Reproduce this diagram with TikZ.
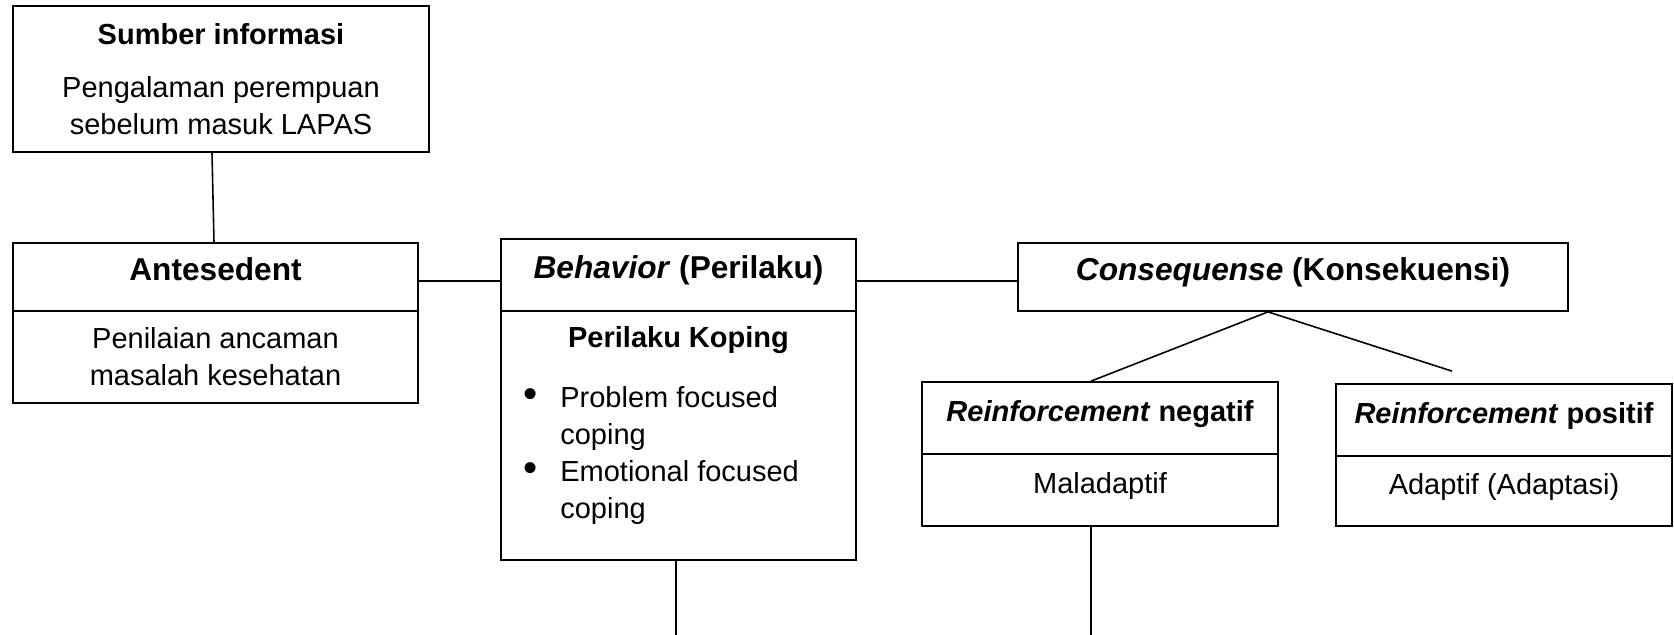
\documentclass[tikz,border=0pt]{standalone}
\usepackage{fontspec}
\setmainfont{Liberation Sans}
\newcommand{\bigtxt}{\fontsize{18}{22}\selectfont\bfseries}
\newcommand{\smalltxt}{\fontsize{16.5}{21}\selectfont}
\newcommand{\bulitem}{\makebox[0.74cm][l]{{\fontsize{23}{21}\selectfont\textbullet}}}
\tikzset{
  box/.style={draw, line width=1pt, inner sep=0pt, align=center, font=\smalltxt},
  oneline/.style={box, text height=0.75em, text depth=0.3em},
  head/.style={oneline, font=\bigtxt},
  subhead/.style={oneline, font=\smalltxt\bfseries},
  conn/.style={line width=0.9pt},
}
\begin{document}
\begin{tikzpicture}
  \useasboundingbox (0,0) rectangle (33.48,-12.7);
  % sumber informasi
  \node[box, minimum width=8.32cm, minimum height=2.92cm] (sumber) at (4.42,-1.58)
    {\textbf{Sumber informasi}\\[0.32cm]Pengalaman perempuan\\sebelum masuk LAPAS};
  % antesedent
  \node[head, minimum width=8.10cm, minimum height=1.36cm] (anteh) at (4.31,-5.54) {Antesedent};
  \node[box, minimum width=8.10cm, minimum height=1.84cm] (anteb) at (4.31,-7.14)
    {Penilaian ancaman\\masalah kesehatan};
  % behavior
  \node[head, minimum width=7.10cm, minimum height=1.44cm] (behh) at (13.57,-5.5)
    {\textit{Behavior} (Perilaku)};
  \node[box, minimum width=7.10cm, minimum height=4.98cm] (behb) at (13.57,-8.71) {};
  \node[font=\smalltxt\bfseries] (koping) at (13.57,-6.8) {Perilaku Koping};
  \node[anchor=west, inner sep=0pt, font=\smalltxt] (koplist) at (10.46,-9.11)
    {\begin{tabular}{@{}l@{}l@{}}
      \bulitem & Problem focused\\
               & coping\\
      \bulitem & Emotional focused\\
               & coping
    \end{tabular}};
  % consequense
  \node[head, minimum width=11.0cm, minimum height=1.36cm] (consh) at (25.86,-5.54)
    {\textit{Consequense} (Konsekuensi)};
  \node[subhead, minimum width=7.12cm, minimum height=1.44cm] (negh) at (22.0,-8.36)
    {\textit{Reinforcement} negatif};
  \node[oneline, minimum width=7.12cm, minimum height=1.44cm] (negb) at (22.0,-9.8) {Maladaptif};
  \node[subhead, minimum width=6.72cm, minimum height=1.44cm] (posh) at (30.08,-8.4)
    {\textit{Reinforcement} positif};
  \node[oneline, minimum width=6.72cm, minimum height=1.40cm] (posb) at (30.08,-9.82) {Adaptif (Adaptasi)};

  \coordinate (apex) at ([xshift=-0.5cm]consh.south);
  \coordinate (posgap) at ([xshift=-1.04cm,yshift=0.24cm]posh.north);
  \coordinate (behend) at ([xshift=-0.05cm]behb.south |- 0,-12.7);
  \coordinate (negend) at ([xshift=-0.18cm]negb.south |- 0,-12.7);

  \draw[conn] ([xshift=-0.18cm]sumber.south) -- ([xshift=-0.03cm]anteh.north);
  \draw[conn] ([yshift=-0.08cm]anteh.east) -- ([yshift=-0.08cm]anteh.east -| behh.west);
  \draw[conn] ([yshift=-0.08cm]anteh.east -| behh.east) -- ([yshift=-0.08cm]anteh.east -| consh.west);
  \draw[conn] (apex) -- ([xshift=-0.18cm]negh.north);
  \draw[conn] (apex) -- (posgap);
  \draw[conn] ([xshift=-0.05cm]behb.south) -- (behend);
  \draw[conn] ([xshift=-0.18cm]negb.south) -- (negend);
\end{tikzpicture}
\end{document}
